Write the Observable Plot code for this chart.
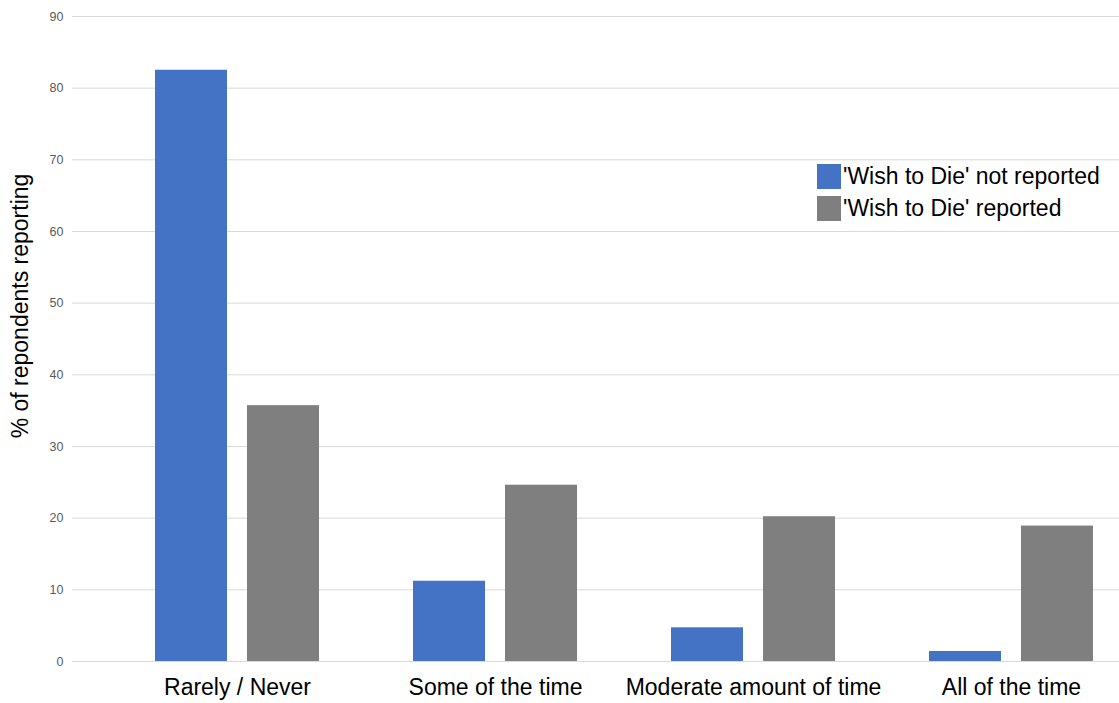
<!DOCTYPE html>
<html>
<head>
<meta charset="utf-8">
<script src="https://cdn.jsdelivr.net/npm/d3@7"></script>
<script src="https://cdn.jsdelivr.net/npm/@observablehq/plot@0.6"></script>
<style>
  html, body { margin: 0; padding: 0; background: #fff; }
  #wrap { position: relative; width: 1119px; height: 703px; font-family: "Liberation Sans", Arial, sans-serif; }
  #legend { position: absolute; left: 817px; top: 160px; font-size: 23px; color: #000; }
  #legend .item { display: flex; align-items: center; height: 32px; }
  #legend .sw { width: 24px; height: 25px; margin-right: 2px; }
</style>
</head>
<body>
<div id="wrap"></div>
<script>
const categories = ["Rarely / Never", "Some of the time", "Moderate amount of time", "All of the time"];
const seriesNames = ["'Wish to Die' not reported", "'Wish to Die' reported"];
const seriesColors = ["#4472C4", "#7F7F7F"];
const notReported = [82.5, 11.2, 4.7, 1.4];
const reported = [35.7, 24.6, 20.2, 18.9];
const yTicks = [0, 10, 20, 30, 40, 50, 60, 70, 80, 90];
const yLabel = "% of repondents reporting";

const dataNot = categories.map((c, i) => ({category: c, value: notReported[i]}));
const dataRep = categories.map((c, i) => ({category: c, value: reported[i]}));

const chart = Plot.plot({
  width: 1119,
  height: 703,
  marginLeft: 72,
  marginRight: 0,
  marginTop: 16,
  marginBottom: 42,
  style: {fontFamily: "'Liberation Sans', Arial, sans-serif", background: "#fff"},
  x: {domain: categories, paddingInner: 0.366, paddingOuter: 0.206, align: 0.76, label: null},
  y: {domain: [0, 90], ticks: yTicks, label: null},
  marks: [
    Plot.gridY(yTicks, {stroke: "#d9d9d9", strokeOpacity: 1}),
    Plot.barY(dataNot, {x: "category", y: "value", fill: seriesColors[0], insetLeft: 0, insetRight: 92}),
    Plot.barY(dataRep, {x: "category", y: "value", fill: seriesColors[1], insetLeft: 92, insetRight: 0}),
    Plot.axisY(yTicks, {tickSize: 0, tickPadding: 9, fontSize: 12.5, fill: "#595959", label: null}),
    Plot.axisX({tickSize: 0, tickPadding: 17, fontSize: 23, fill: "#000", label: null}),
    Plot.text([yLabel], {text: d => d, frameAnchor: "left", textAnchor: "middle", rotate: -90, dx: -52, dy: -33, fontSize: 23, fill: "#000"})
  ]
});

const wrap = document.getElementById("wrap");
wrap.appendChild(chart);

const legend = document.createElement("div");
legend.id = "legend";
seriesNames.forEach((name, i) => {
  const item = document.createElement("div");
  item.className = "item";
  const sw = document.createElement("div");
  sw.className = "sw";
  sw.style.background = seriesColors[i];
  const t = document.createElement("span");
  t.textContent = name;
  item.appendChild(sw);
  item.appendChild(t);
  legend.appendChild(item);
});
wrap.appendChild(legend);
</script>
</body>
</html>
